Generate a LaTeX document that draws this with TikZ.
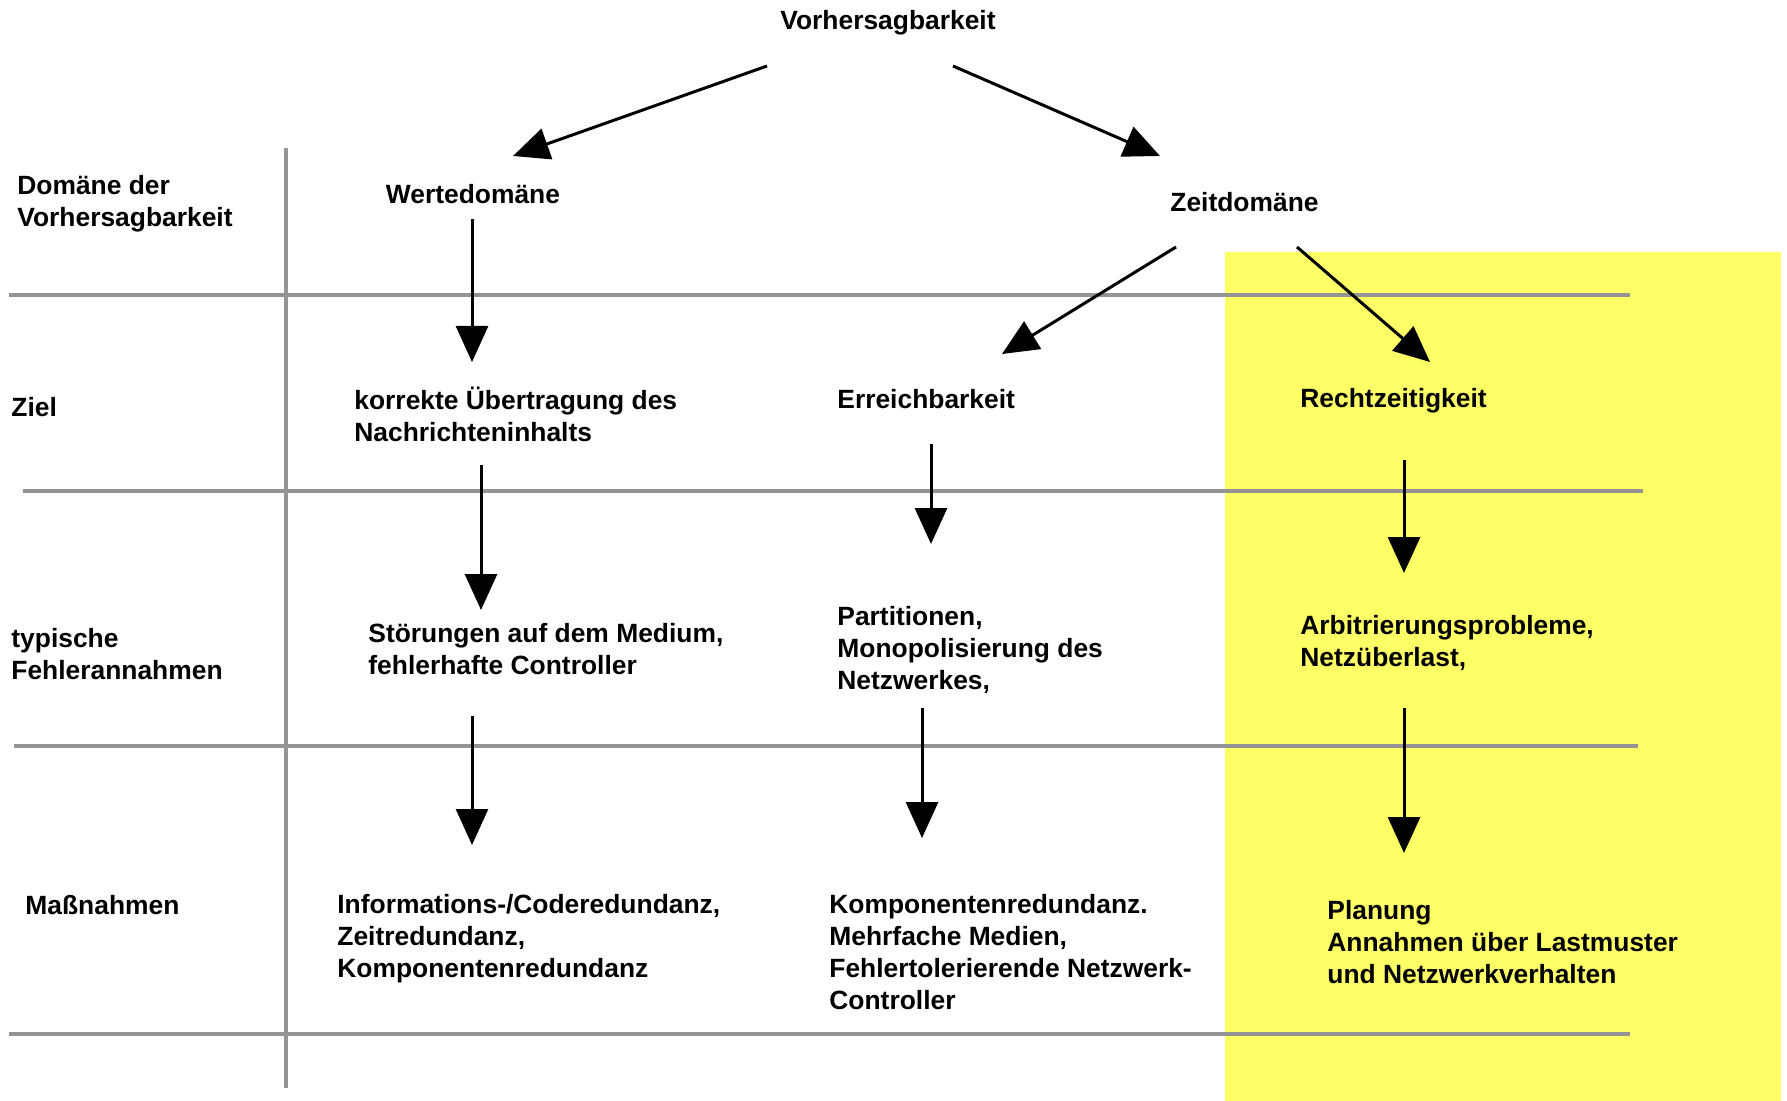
\documentclass[tikz,border=0pt]{standalone}
\usepackage{fontspec}
\setmainfont{Liberation Sans}
\usetikzlibrary{arrows.meta,calc}
\definecolor{hl}{RGB}{255,255,102}
\begin{document}
\begin{tikzpicture}[x=0.5pt,y=-0.5pt,
  lbl/.style={inner sep=0pt,anchor=west,align=left,font=\fontsize{13.2}{16}\selectfont\bfseries},
  arr/.style={line width=1.5pt,-{Triangle[length=18pt,width=16pt]}},
  grid/.style={line width=2pt,draw=black!42}]
\useasboundingbox (0,0) rectangle (1787,1101);
\fill[hl] (1225,252) rectangle (1781,1101);
% grid lines
\draw[grid] (9,295) -- (1630,295);
\draw[grid] (23,491) -- (1643,491);
\draw[grid] (14,746) -- (1638,746);
\draw[grid] (9,1034) -- (1630,1034);
\draw[grid] (286,148) -- (286,1088);
% nodes
\node[lbl,anchor=center] (vh) at (888,23) {Vorhersagbarkeit};
\node[lbl] (dom) at (17,204) {Domäne der\\Vorhersagbarkeit};
\node[lbl,anchor=center] (wd) at (473,194) {Wertedomäne};
\node[lbl] (zd) at (1170,202) {Zeitdomäne};
\node[lbl] (ziel) at (11,407) {Ziel};
\node[lbl] (kor) at (354,414) {korrekte Übertragung des\\Nachrichteninhalts};
\node[lbl] (err) at (837,399) {Erreichbarkeit};
\node[lbl] (rz) at (1300,401) {Rechtzeitigkeit};
\node[lbl] (typ) at (11,654) {typische\\Fehlerannahmen};
\node[lbl] (stoer) at (368,649) {Störungen auf dem Medium,\\fehlerhafte Controller};
\node[lbl] (part) at (837,650) {Partitionen,\\Monopolisierung des\\Netzwerkes,};
\node[lbl] (arb) at (1300,643) {Arbitrierungsprobleme,\\Netzüberlast,};
\node[lbl] (mass) at (25,905) {Maßnahmen};
\node[lbl] (info) at (337,939) {Informations-/Coderedundanz,\\Zeitredundanz,\\Komponentenredundanz};
\node[lbl] (komp) at (829,952) {Komponentenredundanz.\\Mehrfache Medien,\\Fehlertolerierende Netzwerk-\\Controller};
\node[lbl] (plan) at (1327,942) {Planung\\Annahmen über Lastmuster\\und Netzwerkverhalten};
% arrows
\draw[arr] ($(vh.center)+(-121,43)$) -- ($(wd.center)+(40,-38)$);
\draw[arr] ($(vh.center)+(65,43)$) -- ($(zd.west)+(-10,-46)$);
\draw[arr] ($(wd.center)+(-1,25)$) -- ($(kor.west)+(118,-52)$);
\draw[arr] ($(zd.west)+(6,45)$) -- ($(err.west)+(165,-45)$);
\draw[arr] ($(zd.west)+(127,45)$) -- ($(rz.west)+(130,-39)$);
\draw[arr] ($(kor.west)+(127,51)$) -- ($(stoer.west)+(113,-39)$);
\draw[arr] ($(err.west)+(94,45)$) -- ($(part.west)+(94,-106)$);
\draw[arr] ($(rz.west)+(104,59)$) -- ($(arb.west)+(104,-70)$);
\draw[arr] ($(stoer.west)+(104,67)$) -- ($(info.west)+(135,-94)$);
\draw[arr] ($(part.west)+(85,58)$) -- ($(komp.west)+(93,-114)$);
\draw[arr] ($(arb.west)+(104,65)$) -- ($(plan.west)+(77,-89)$);
\end{tikzpicture}
\end{document}
